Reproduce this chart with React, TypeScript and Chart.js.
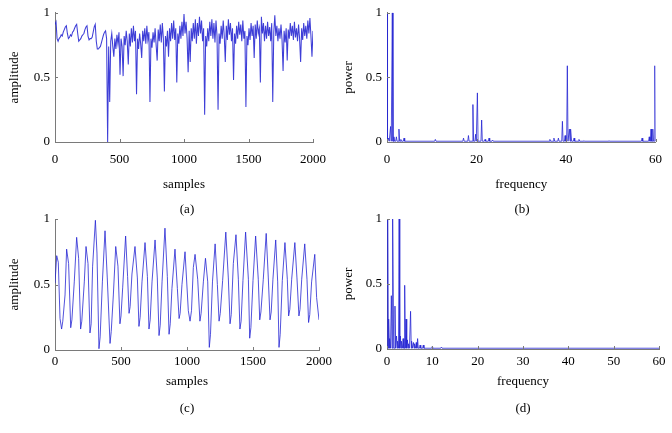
import React, { useEffect, useRef } from "react";
import { Chart, registerables } from "chart.js";

Chart.register(...registerables);

const LINE_COLOR = "rgba(35,35,210,0.88)";
const AXIS_COLOR = "#7a7a7a";
const FONT = "'Liberation Serif', 'Times New Roman', serif";

// ---------- (a) amplitude, one value every 8 samples from 0 to 2000 ----------
const SAMPLE_STEP_A = 8;
const ampA = [
  0.91, 0.93, 0.80, 0.78, 0.80, 0.81, 0.83, 0.82, 0.85, 0.87,
  0.89, 0.90, 0.84, 0.80, 0.81, 0.83, 0.82, 0.85, 0.86, 0.88,
  0.90, 0.91, 0.84, 0.78, 0.79, 0.80, 0.82, 0.83, 0.84, 0.87,
  0.89, 0.90, 0.82, 0.79, 0.80, 0.80, 0.81, 0.85, 0.89, 0.91,
  0.78, 0.72, 0.72, 0.73, 0.74, 0.77, 0.80, 0.83, 0.85, 0.86,
  0.80, 0.00, 0.74, 0.31,
  0.78, 0.84, 0.74, 0.66, 0.80, 0.72, 0.83, 0.76, 0.85, 0.52,
  0.80, 0.74, 0.51, 0.82, 0.75, 0.86, 0.78, 0.60, 0.84, 0.74,
  0.88, 0.77, 0.90, 0.78, 0.86, 0.37, 0.80, 0.72, 0.84, 0.76,
  0.65, 0.86, 0.78, 0.88, 0.76, 0.90, 0.79, 0.85, 0.31, 0.80,
  0.73, 0.85, 0.77, 0.88, 0.75, 0.63, 0.87, 0.78, 0.91, 0.77,
  0.92, 0.80, 0.39, 0.82, 0.74, 0.86, 0.66, 0.88, 0.78, 0.92,
  0.80, 0.94, 0.79, 0.88, 0.46, 0.84, 0.76, 0.90, 0.80, 0.93,
  0.82, 0.99, 0.84, 0.93, 0.80, 0.54, 0.86, 0.62, 0.88, 0.78,
  0.92, 0.80, 0.95, 0.76, 0.92, 0.82, 0.97, 0.84, 0.94, 0.78,
  0.88, 0.21, 0.82, 0.74, 0.88, 0.78, 0.93, 0.82, 0.95, 0.80,
  0.92, 0.77, 0.94, 0.82, 0.25, 0.84, 0.76, 0.90, 0.80, 0.94,
  0.82, 0.62, 0.90, 0.79, 0.95, 0.83, 0.92, 0.78, 0.88, 0.48,
  0.84, 0.76, 0.90, 0.80, 0.93, 0.83, 0.91, 0.78, 0.94, 0.80,
  0.86, 0.27, 0.82, 0.75, 0.88, 0.79, 0.92, 0.82, 0.90, 0.65,
  0.91, 0.80, 0.94, 0.84, 0.88, 0.46, 0.97, 0.84, 0.92, 0.78,
  0.90, 0.80, 0.93, 0.82, 0.89, 0.78, 0.92, 0.31, 0.85, 0.98,
  0.82, 0.90, 0.78, 0.88, 0.80, 0.91, 0.79, 0.55, 0.86, 0.77,
  0.88, 0.63, 0.87, 0.80, 0.92, 0.82, 0.90, 0.79, 0.93, 0.81,
  0.88, 0.78, 0.91, 0.80, 0.62, 0.88, 0.79, 0.92, 0.82, 0.90,
  0.80, 0.94, 0.84, 0.96, 0.82, 0.66, 0.86,
];

// ---------- (c) amplitude at sample positions ----------
const samplesC = [
  0, 13, 25, 38,
  50, 59, 76, 88, 103,
  119, 128, 146, 164, 179,
  194, 203, 222, 235, 250,
  265, 274, 285, 306, 318,
  333, 342, 359, 379, 396,
  417, 426, 442, 460, 477,
  492, 500, 513, 535, 550,
  561, 569, 583, 606, 624,
  636, 645, 659, 682, 700,
  712, 721, 735, 758, 775,
  788, 797, 811, 833, 851,
  864, 873, 886, 909, 927,
  940, 948, 962, 985, 1010,
  1023, 1034, 1048, 1061, 1081,
  1098, 1107, 1124, 1140, 1157,
  1169, 1178, 1193, 1213, 1230,
  1243, 1252, 1270, 1294, 1313,
  1326, 1335, 1351, 1371, 1389,
  1401, 1410, 1424, 1444, 1465,
  1475, 1484, 1500, 1520, 1540,
  1551, 1560, 1578, 1600, 1616,
  1629, 1638, 1651, 1672, 1687,
  1697, 1706, 1722, 1742, 1760,
  1770, 1779, 1793, 1817, 1833,
  1848, 1856, 1869, 1892, 1909,
  1921, 1930, 1944, 1968, 1982,
  2000,
];
const ampC = [
  0.51, 0.72, 0.67, 0.24,
  0.16, 0.22, 0.42, 0.77, 0.66,
  0.17, 0.23, 0.52, 0.86, 0.70,
  0.16, 0.22, 0.52, 0.79, 0.66,
  0.13, 0.20, 0.64, 0.99, 0.74,
  0.01, 0.10, 0.52, 0.91, 0.55,
  0.05, 0.14, 0.42, 0.79, 0.64,
  0.20, 0.26, 0.48, 0.87, 0.56,
  0.28, 0.33, 0.58, 0.79, 0.55,
  0.18, 0.25, 0.52, 0.82, 0.56,
  0.16, 0.23, 0.52, 0.84, 0.55,
  0.11, 0.19, 0.52, 0.93, 0.56,
  0.12, 0.20, 0.47, 0.77, 0.47,
  0.24, 0.28, 0.50, 0.75, 0.30,
  0.22, 0.30, 0.63, 0.73, 0.54,
  0.22, 0.28, 0.52, 0.70, 0.52,
  0.02, 0.12, 0.52, 0.81, 0.50,
  0.22, 0.28, 0.53, 0.90, 0.55,
  0.20, 0.27, 0.66, 0.88, 0.54,
  0.16, 0.22, 0.53, 0.90, 0.54,
  0.09, 0.17, 0.53, 0.87, 0.54,
  0.23, 0.29, 0.54, 0.89, 0.55,
  0.23, 0.29, 0.54, 0.84, 0.52,
  0.02, 0.12, 0.53, 0.82, 0.54,
  0.26, 0.31, 0.54, 0.82, 0.55,
  0.26, 0.31, 0.54, 0.81, 0.54,
  0.21, 0.27, 0.52, 0.73, 0.40,
  0.23,
];

// ---------- (b) spectrum peaks ----------
const peakFreqB = [
  0, 0.35, 0.8, 1.19, 1.55, 2.1, 2.67, 3.1, 3.8, 10.8, 17.1, 18.2, 19.2, 19.8,
  20.2, 21.15, 21.9, 22.8, 23.6, 36.4, 37.3, 38.3, 39.2, 39.8, 40.3, 40.75, 41.1,
  41.8, 42.9, 44.0, 49.6, 57.0, 58.6, 59.0, 59.4, 59.85,
];
const peakPowB = [
  1.0, 0.03, 0.12, 1.0, 0.04, 0.04, 0.10, 0.02, 0.03, 0.02, 0.03, 0.05, 0.29, 0.06,
  0.38, 0.17, 0.02, 0.03, 0.015, 0.02, 0.03, 0.03, 0.16, 0.05, 0.59, 0.10, 0.10,
  0.03, 0.02, 0.01, 0.01, 0.03, 0.04, 0.10, 0.10, 0.59,
];

// ---------- (d) spectrum peaks ----------
const peakFreqD = [
  0.15, 0.44, 0.62, 0.96, 1.32, 1.76, 2.1, 2.4, 2.68, 2.95, 3.25, 3.55, 3.9, 4.2,
  4.5, 4.8, 5.2, 5.5, 5.85, 6.15, 6.45, 6.75, 7.3, 8.0, 10.0, 12.0,
];
const peakPowD = [
  1.0, 0.23, 0.08, 0.41, 1.0, 0.33, 0.10, 0.06, 1.0, 0.10, 0.06, 0.08, 0.49, 0.23,
  0.07, 0.04, 0.29, 0.06, 0.05, 0.04, 0.05, 0.08, 0.03, 0.03, 0.02, 0.015,
];

const SPEC_BASE = 0.006;

type Pt = { x: number; y: number };

function regularSeries(values: number[], step: number): Pt[] {
  return values.map((v, i) => ({ x: i * step, y: v }));
}
function pairedSeries(xs: number[], ys: number[]): Pt[] {
  const n = Math.min(xs.length, ys.length);
  const out: Pt[] = [];
  for (let i = 0; i < n; i++) out.push({ x: xs[i], y: ys[i] });
  return out;
}
function spikeSeries(freqs: number[], pows: number[], hw: number, xMax: number): Pt[] {
  const pts: Pt[] = [{ x: 0, y: SPEC_BASE }];
  for (let i = 0; i < freqs.length; i++) {
    const f = freqs[i];
    const left = i > 0 ? Math.min(hw, (f - freqs[i - 1]) / 2) : hw;
    const right = i < freqs.length - 1 ? Math.min(hw, (freqs[i + 1] - f) / 2) : hw;
    if (f - left > 0) pts.push({ x: f - left, y: SPEC_BASE });
    pts.push({ x: f, y: pows[i] });
    pts.push({ x: Math.min(xMax, f + right), y: SPEC_BASE });
  }
  pts.push({ x: xMax, y: SPEC_BASE });
  return pts;
}

const inTicks = {
  id: "inTicks",
  afterDraw(chart: any) {
    const { ctx, chartArea, scales } = chart;
    const xs = scales.x;
    const ys = scales.y;
    ctx.save();
    ctx.strokeStyle = AXIS_COLOR;
    ctx.lineWidth = 1;
    ctx.beginPath();
    xs.ticks.forEach((t: any) => {
      const px = Math.round(xs.getPixelForValue(t.value)) + 0.5;
      ctx.moveTo(px, chartArea.bottom);
      ctx.lineTo(px, chartArea.bottom - 3);
    });
    ys.ticks.forEach((t: any) => {
      const py = Math.round(ys.getPixelForValue(t.value)) + 0.5;
      ctx.moveTo(chartArea.left, py);
      ctx.lineTo(chartArea.left + 3, py);
    });
    ctx.stroke();
    ctx.restore();
  },
};

type PanelSpec = {
  id: string;
  left: number;
  top: number;
  width: number;
  height: number;
  padTop: number;
  padRight: number;
  yWidth: number;
  xHeight: number;
  xMax: number;
  xStep: number;
  xTitle: string;
  yTitle: string;
  xTickPad: number;
  xTitlePadBottom: number;
  yTitlePadTop: number;
  yTickPad: number;
  lineWidth: number;
  data: Pt[];
  caption: string;
  capX: number;
  capY: number;
};

const PANELS: PanelSpec[] = [
  {
    id: "a", left: 0, top: 0, width: 336, height: 216, padTop: 11, padRight: 17,
    yWidth: 55, xHeight: 74, xMax: 2000, xStep: 500, xTitle: "samples", yTitle: "amplitude",
    xTickPad: 10, xTitlePadBottom: 24, yTitlePadTop: 7, yTickPad: 5, lineWidth: 1.05,
    data: regularSeries(ampA, SAMPLE_STEP_A), caption: "(a)", capX: 187, capY: 209,
  },
  {
    id: "b", left: 336, top: 0, width: 336, height: 216, padTop: 11, padRight: 15,
    yWidth: 51, xHeight: 74, xMax: 60, xStep: 20, xTitle: "frequency", yTitle: "power",
    xTickPad: 10, xTitlePadBottom: 24, yTitlePadTop: 5, yTickPad: 5, lineWidth: 0.9,
    data: spikeSeries(peakFreqB, peakPowB, 0.15, 60), caption: "(b)", capX: 522, capY: 209,
  },
  {
    id: "c", left: 0, top: 206, width: 336, height: 227, padTop: 13, padRight: 17,
    yWidth: 55, xHeight: 83, xMax: 2000, xStep: 500, xTitle: "samples", yTitle: "amplitude",
    xTickPad: 4, xTitlePadBottom: 44, yTitlePadTop: 7, yTickPad: 5, lineWidth: 0.9,
    data: pairedSeries(samplesC, ampC), caption: "(c)", capX: 187, capY: 408,
  },
  {
    id: "d", left: 336, top: 206, width: 336, height: 227, padTop: 13, padRight: 13,
    yWidth: 51, xHeight: 84, xMax: 60, xStep: 10, xTitle: "frequency", yTitle: "power",
    xTickPad: 5, xTitlePadBottom: 44, yTitlePadTop: 5, yTickPad: 5, lineWidth: 0.9,
    data: spikeSeries(peakFreqD, peakPowD, 0.15, 60), caption: "(d)", capX: 523, capY: 408,
  },
];

function PanelChart({ spec }: { spec: PanelSpec }) {
  const ref = useRef<HTMLCanvasElement | null>(null);
  useEffect(() => {
    if (!ref.current) return;
    const font = { family: FONT, size: 13 };
    const chart = new Chart(ref.current, {
      type: "line",
      data: {
        datasets: [
          {
            data: spec.data as any,
            borderColor: LINE_COLOR,
            borderWidth: spec.lineWidth,
            pointRadius: 0,
            tension: 0,
            fill: false,
          },
        ],
      },
      options: {
        responsive: false,
        animation: false,
        events: [],
        layout: { padding: { top: spec.padTop, right: spec.padRight, left: 0, bottom: 0 } },
        plugins: {
          legend: { display: false },
          tooltip: { enabled: false },
          title: { display: false },
        },
        scales: {
          x: {
            type: "linear",
            min: 0,
            max: spec.xMax,
            grid: { display: false, drawTicks: false },
            border: { display: true, color: AXIS_COLOR, width: 1 },
            ticks: {
              stepSize: spec.xStep,
              padding: spec.xTickPad,
              color: "#000",
              font,
              maxRotation: 0,
              autoSkip: false,
              callback: (v: any) => String(v),
            },
            title: {
              display: true,
              text: spec.xTitle,
              color: "#000",
              font,
              padding: { top: 0, bottom: spec.xTitlePadBottom },
            },
            afterFit: (s: any) => {
              s.height = spec.xHeight;
            },
          },
          y: {
            type: "linear",
            min: 0,
            max: 1,
            grid: { display: false, drawTicks: false },
            border: { display: true, color: AXIS_COLOR, width: 1 },
            ticks: {
              stepSize: 0.5,
              padding: spec.yTickPad,
              color: "#000",
              font,
              callback: (v: any) => String(v),
            },
            title: {
              display: true,
              text: spec.yTitle,
              color: "#000",
              font,
              padding: { top: spec.yTitlePadTop, bottom: 0 },
            },
            afterFit: (s: any) => {
              s.width = spec.yWidth;
            },
          },
        },
      } as any,
      plugins: [inTicks],
    });
    return () => chart.destroy();
  }, [spec]);
  return (
    <canvas
      ref={ref}
      width={spec.width}
      height={spec.height}
      style={{ position: "absolute", left: spec.left, top: spec.top, width: spec.width, height: spec.height }}
    />
  );
}

export default function App() {
  return (
    <div
      style={{
        position: "fixed",
        left: 0,
        top: 0,
        width: 672,
        height: 433,
        background: "#fff",
        fontFamily: FONT,
        overflow: "hidden",
      }}
    >
      {PANELS.map((p) => (
        <PanelChart key={p.id} spec={p} />
      ))}
      {PANELS.map((p) => (
        <div
          key={p.id + "-cap"}
          style={{
            position: "absolute",
            left: p.capX - 30,
            width: 60,
            top: p.capY - 8,
            textAlign: "center",
            fontSize: 13,
            lineHeight: "16px",
            color: "#000",
          }}
        >
          {p.caption}
        </div>
      ))}
    </div>
  );
}
